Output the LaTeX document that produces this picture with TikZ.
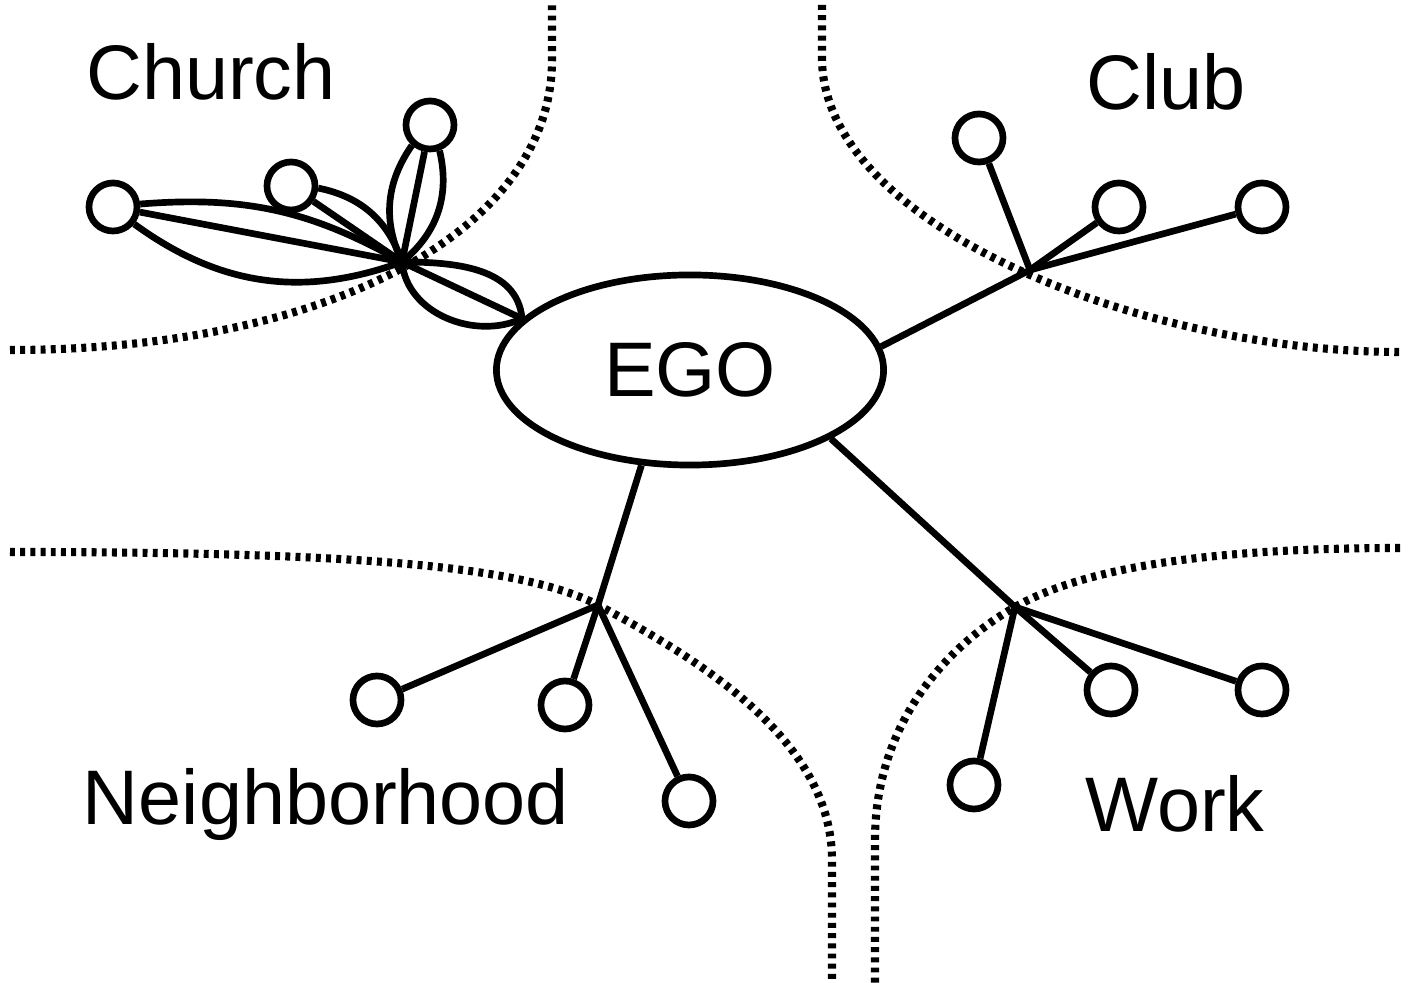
\documentclass[tikz,border=0pt]{standalone}
\usepackage{fontspec}
\setmainfont{Liberation Sans}
\usetikzlibrary{shapes}

\begin{document}
\begin{tikzpicture}[x=0.01cm,y=-0.01cm,line join=bevel,line width=1.9pt,
  alter/.style={draw,circle,minimum size=0.48cm,inner sep=0pt},
  zone/.style={line width=2.3pt,dash pattern=on 1.4pt off 1.5pt},
  group/.style={font=\fontsize{22}{26}\selectfont,anchor=base,inner sep=0pt}]
\useasboundingbox (0,0) rectangle (1408,983);
%%
\draw [zone] (10,350) .. controls (330,350) and (552,230) .. (552,60) -- (552,5);
\draw [zone] (822,5) -- (822,60) .. controls (825,230) and (1150,352) .. (1400,352);
\draw [zone] (10,552) .. controls (350,552) and (520,565) .. (598,605) .. controls (700,660) and (832,740) .. (832,860) -- (832,983);
\draw [zone] (1400,548) .. controls (1200,548) and (1080,570) .. (1015,607) .. controls (940,650) and (875,730) .. (875,840) -- (875,983);
%
\node (ego) at (690,370) [draw,ellipse,minimum width=3.87cm,minimum height=1.9cm,inner sep=0pt,font=\fontsize{22}{26}\selectfont] {EGO};
  \node (church) at (211,100) [group] {Church};
  \node (club) at (1166,110) [group] {Club};
  \node (nbhd) at (326,825) [group] {Neighborhood};
  \node (work) at (1175,832) [group] {Work};
  \coordinate (churchHub) at (402,262);
  \coordinate (clubHub) at (1030,270);
  \coordinate (nbhdHub) at (598,605);
  \coordinate (workHub) at (1015,607);
  \node (ch1) at (113,207) [alter] {};
  \node (ch2) at (291,186) [alter] {};
  \node (ch3) at (430,125) [alter] {};
  \node (cl1) at (979,138) [alter] {};
  \node (cl2) at (1119,207) [alter] {};
  \node (cl3) at (1262,207) [alter] {};
  \node (nb1) at (377,700) [alter] {};
  \node (nb2) at (565,705) [alter] {};
  \node (nb3) at (689,801) [alter] {};
  \node (wk1) at (974,785) [alter] {};
  \node (wk2) at (1111,690) [alter] {};
  \node (wk3) at (1262,690) [alter] {};
  \draw (ch1) -- (churchHub);
  \draw (ch1) to[bend left=17] (churchHub);
  \draw (ch1) to[bend right=28] (churchHub);
  \draw (ch2) -- (churchHub);
  \draw (ch2) to[bend left=30] (churchHub);
  \draw (ch3) -- (churchHub);
  \draw (ch3) to[bend left=32] (churchHub);
  \draw (ch3) to[bend right=30] (churchHub);
  \draw (churchHub) -- (ego.163);
  \draw (churchHub) to[out=0,in=95] (ego.163);
  \draw (churchHub) to[out=-85,in=205] (ego.163);
  \draw (clubHub) -- (ego.7);
  \draw (clubHub) -- (cl1);
  \draw (clubHub) -- (cl2);
  \draw (clubHub) -- (cl3);
  \draw (nbhdHub) -- (ego.243);
  \draw (nbhdHub) -- (nb1);
  \draw (nbhdHub) -- (nb2);
  \draw (nbhdHub) -- (nb3);
  \draw (workHub) -- (ego.334);
  \draw (workHub) -- (wk1);
  \draw (workHub) -- (wk2);
  \draw (workHub) -- (wk3);
%
\end{tikzpicture}
\end{document}
